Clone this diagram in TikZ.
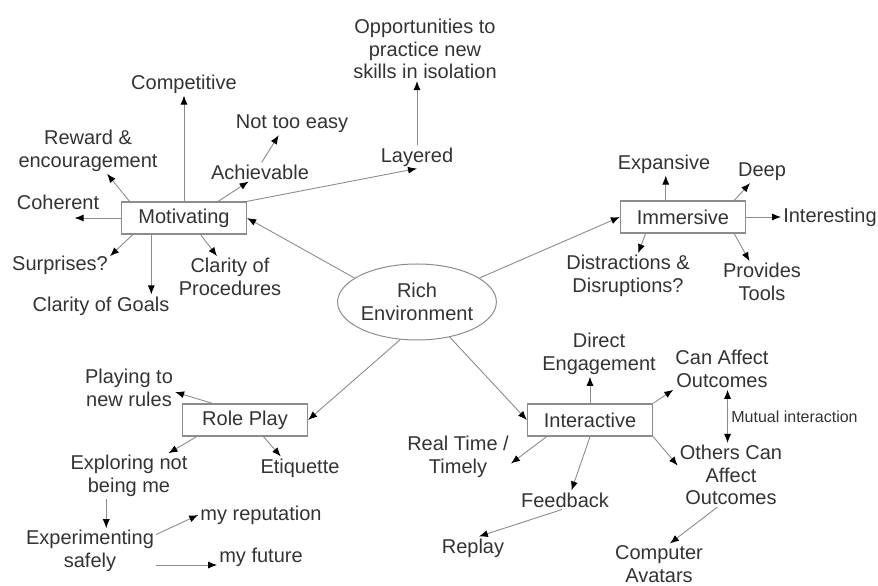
\documentclass[tikz,border=0pt]{standalone}
\usepackage{fontspec}
\setmainfont{Liberation Sans}
\usetikzlibrary{arrows.meta,shapes.geometric,positioning}
\tikzset{->, % every connector gets a head
>={Latex[black,length=9pt,width=7pt]}, % solid black heads on grey lines
on grid, % relative offsets are measured centre to centre
every edge/.style={draw=black!45, line width=0.9pt}, % the grey connectors
hub/.style={ellipse, draw=black!45, line width=1pt, minimum width=155pt, minimum height=76pt, inner sep=0pt, align=center, text=black!80, font=\fontsize{20}{22.5}\selectfont}, % the centre
topic/.style={draw=black!45, line width=1.3pt, fill=white, minimum width=125pt, minimum height=32pt, text=black!80, font=\fontsize{20}{22.5}\selectfont}, % boxed branches
leaf/.style={align=center, inner sep=2pt, text=black!80, font=\fontsize{20}{22.5}\selectfont}, % plain text items
}

\begin{document}
\begin{tikzpicture}[x=1pt,y=1pt]
\useasboundingbox (0,0) rectangle (878,586);
\node[hub] (rich) at (417,284) {Rich\\Environment};
\node[topic] (mot) at (184,368) {Motivating};
\node[topic] (imm) at (683,369) {Immersive};
\node[topic] (role) at (245,166) {Role Play};
\node[topic] (inter) at (590,166) {Interactive};

\node[leaf, above=134pt of mot] (comp) {Competitive};
\node[leaf, above left=67pt and 96pt of mot] (reward) {Reward \&\\encouragement};
\node[leaf, above left=16pt and 126pt of mot] (coher) {Coherent};
\node[leaf, below left=47pt and 124pt of mot] (surp) {Surprises?};
\node[leaf, below left=88pt and 83pt of mot] (goals) {Clarity of Goals};
\node[leaf, below right=59pt and 46pt of mot] (proc) {Clarity of\\Procedures};
\node[leaf, above right=46pt and 76pt of mot] (achv) {Achievable};
\node[leaf, above right=48pt and 32pt of achv] (easy) {Not too easy};
\node[leaf, above right=61pt and 233pt of mot] (layer) {Layered};
\node[leaf, above right=108pt and 8pt of layer] (opp) {Opportunities to\\practice new\\skills in isolation};

\node[leaf, above left=53pt and 19pt of imm] (expan) {Expansive};
\node[leaf, above right=45pt and 79pt of imm] (deep) {Deep};
\node[leaf, right=147pt of imm] (intg) {Interesting};
\node[leaf, below left=59pt and 55pt of imm] (distr) {Distractions \&\\Disruptions?};
\node[leaf, below right=65pt and 79pt of imm] (tools) {Provides\\Tools};

\node[leaf, above left=32pt and 116pt of role] (rules) {Playing to\\new rules};
\node[leaf, below left=56pt and 116pt of role] (explore) {Exploring not\\being me};
\node[leaf, below right=48pt and 55pt of role] (etiq) {Etiquette};
\node[leaf, below left=75pt and 39pt of explore] (exper) {Experimenting\\safely};
\node[leaf, above right=36pt and 171pt of exper] (repu) {my reputation};
\node[leaf, below right=6pt and 171pt of exper] (fut) {my future};

\node[leaf, above right=66pt and 9pt of inter] (direct) {Direct\\Engagement};
\node[leaf, above right=51pt and 132pt of inter] (can) {Can Affect\\Outcomes};
\node[leaf, below left=37pt and 132pt of inter] (real) {Real Time /\\Timely};
\node[leaf, below left=80pt and 25pt of inter] (feed) {Feedback};
\node[leaf, below right=55pt and 141pt of inter] (others) {Others Can\\Affect\\Outcomes};
\node[leaf, below left=48pt and 92pt of feed] (replay) {Replay};
\node[leaf, below left=89pt and 72pt of others] (avatar) {Computer\\Avatars};

\path (rich.159) edge (mot.east)
(rich.21) edge (imm.west)
(rich.-114) edge (role.east)
(rich.-47) edge (inter.west);
\path (mot) edge (comp)
(mot.163) edge (reward.-50)
(mot.west) edge (mot.west -| coher.-30)
(mot.-162) edge (surp.10)
(mot.-153) edge (mot.-153 |- goals.north)
(mot.-45) edge (proc.122)
(mot.26) edge (achv.-140)
(achv.80) edge (easy.-140)
(mot.north east) edge (layer.south)
(layer) edge (layer |- opp.south);
\path (imm.136) edge (imm.136 |- expan.south)
(imm.18) edge (deep.-137)
(imm) edge (intg)
(imm.-156) edge (distr.66)
(imm.-18) edge (tools.121);
\path (role.153) edge (rules.-5)
(role.-161) edge (explore.30)
(role.-42) edge (etiq.149)
(explore.-135) edge (explore.-135 |- exper.north)
(exper.14) edge (repu.west)
(exper.-12) edge (exper.-12 -| fut.west);
\path (inter.north) edge (inter.north |- direct.south)
(inter.north east) edge (can.south west)
(inter.-159) edge (real.-7)
(inter.south) edge (feed.56)
(inter.south east) edge (others.170)
(feed.-108) edge (replay.63)
(others.-113) edge (avatar.62)
(can.-75) edge[<->] node[right, text=black!80, font=\fontsize{16}{18}\selectfont] {Mutual interaction} (can.-75 |- others.north);
\end{tikzpicture}
\end{document}
